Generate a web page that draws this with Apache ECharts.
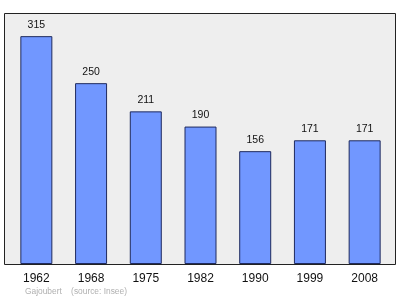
<!DOCTYPE html>
<html><head><meta charset="utf-8">
<script src="https://cdn.jsdelivr.net/npm/echarts@6/dist/echarts.min.js"></script>
<style>html,body{margin:0;padding:0;background:#fff}#c{width:400px;height:299px}</style>
</head><body><div id="c"></div>
<script>
const years = ['1962','1968','1975','1982','1990','1999','2008'];
const population = [315, 250, 211, 190, 156, 171, 171];
const footer = 'Gajoubert    (source: Insee)';

const chart = echarts.init(document.getElementById('c'), null, {renderer:'canvas'});
chart.setOption({
  animation: false,
  graphic: [
    {type:'rect', z:-1, shape:{x:4.5, y:13.5, width:391, height:251}, style:{fill:'#eeeeee', stroke:'#222', lineWidth:1}},
    {type:'text', left:25, top:288, style:{text:footer, fill:'#b0b0b0', font:'8.4px "Liberation Sans", Arial, sans-serif'}}
  ],
  grid: {left:9, right:8, top:13, bottom:35, containLabel:false},
  xAxis: {
    type:'category', data: years,
    axisLine:{show:false}, axisTick:{show:false},
    axisLabel:{color:'#111', fontSize:12, fontFamily:'Liberation Sans', margin:9}
  },
  yAxis: {type:'value', min:0, max:347, show:false, splitLine:{show:false}},
  series: [{
    type:'bar', data: population, barWidth:32,
    itemStyle:{color:'#7197ff', borderColor:'#1f2a5e', borderWidth:1},
    label:{show:true, position:'top', distance:6, color:'#111', fontSize:10.5, fontFamily:'Liberation Sans'}
  }]
});
</script></body></html>
